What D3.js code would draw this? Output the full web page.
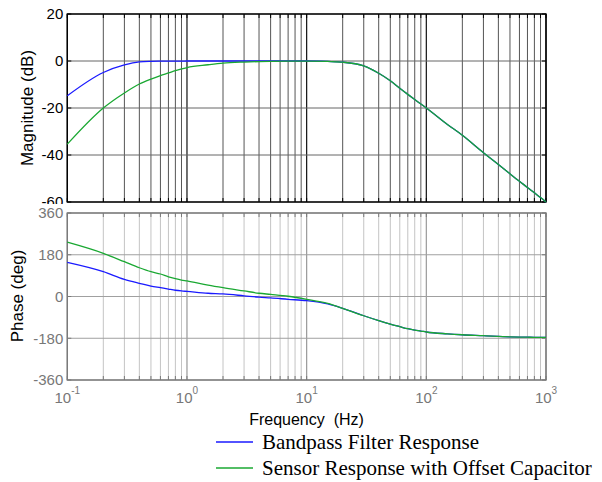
<!DOCTYPE html>
<html>
<head>
<meta charset="utf-8">
<script src="https://cdn.jsdelivr.net/npm/d3@7"></script>
<style>
  body { margin: 0; background: #fff; }
  svg { display: block; font-family: "Liberation Sans", Arial, sans-serif; }
</style>
</head>
<body>
<div id="chart-area"></div>
<script>
// Bode plot: bandpass filter vs sensor with offset capacitor

var freqs = [0.1, 0.2, 0.3, 0.4, 0.5, 0.6, 0.7, 0.8, 0.9, 1, 1.5, 2, 3, 4, 5, 7, 10, 15, 20, 30, 40,
    50, 60, 70, 80, 90, 100, 150, 200, 300, 400, 500, 600, 700, 800, 900, 1000];

var bandMag = [-14.8, -4.9, -1.7, -0.4, -0.15, -0.08, -0.05, -0.03, -0.02, -0.01, 0, 0, 0, 0, 0, 0, 0, -0.2, -0.5, -2.1, -5.2,
    -8.4, -11.6, -14.2, -16.4, -18.3, -20, -27, -31.6, -39, -44, -48, -51.2, -53.8, -56.1, -58.1, -60];
var sensorMag = [-35.4, -20, -13.6, -9.8, -7.7, -6.2, -5.1, -4.1, -3.4, -2.8, -1.6, -0.9, -0.45, -0.25, -0.15, -0.05, -0.02, -0.2, -0.5, -2.1, -5.2,
    -8.4, -11.6, -14.2, -16.4, -18.3, -20, -27, -31.6, -39, -44, -48, -51.2, -53.8, -56.1, -58.1, -60];

var bandPhase = [147, 107, 74, 57, 45, 38, 32, 27, 24, 22, 14, 11, 3, -3, -6, -12, -18, -32, -51, -83, -104,
    -119, -130, -139, -145, -149, -153, -161, -165, -169, -172, -174, -175, -175.5, -176, -176, -176];
var sensorPhase = [234, 186, 150, 124, 107, 97, 85, 77, 71, 67, 49, 38, 24, 14, 9, 1, -12, -30, -51, -83, -104,
    -119, -130, -139, -145, -149, -153, -161, -165, -169, -172, -174, -175, -175.5, -176, -176, -176];

var magTicks = [-60, -40, -20, 0, 20];
var phaseTicks = [-360, -180, 0, 180, 360];
var decades = [0.1, 1, 10, 100, 1000];
var decadeExp = ["-1", "0", "1", "2", "3"];

var seriesNames = ["Bandpass Filter Response", "Sensor Response with Offset Capacitor"];
var seriesColors = ["#1a1aff", "#1aa832"];

var width = 602, height = 482;

var svg = d3.select("#chart-area").append("svg")
    .attr("width", width)
    .attr("height", height);

svg.append("rect").attr("width", width).attr("height", height).attr("fill", "#fff");

// Scales
var x = d3.scaleLog().domain([0.1, 1000]).range([67.3, 546]);
var yMag = d3.scaleLinear().domain([-60, 20]).range([202, 14]);
var yPh = d3.scaleLinear().domain([-360, 360]).range([380, 213]);

var minorTicks = x.ticks();

function isDecade(f) {
    return decades.some(function(d) { return Math.abs(d - f) / d < 1e-6; });
}

function drawPanel(y, ticks, opt) {
    var g = svg.append("g");
    var y0 = y.range()[0], y1 = y.range()[1];
    var x0 = x.range()[0], x1 = x.range()[1];

    // white background (also clips the label from the panel above)
    if (opt.clip) {
        g.append("rect")
            .attr("x", 0).attr("y", y1 - 9)
            .attr("width", x0).attr("height", y0 - y1 + 9)
            .attr("fill", "#fff");
    }

    // vertical grid
    g.selectAll(".vgrid").data(minorTicks).enter().append("line")
        .attr("x1", function(d) { return x(d); })
        .attr("x2", function(d) { return x(d); })
        .attr("y1", y1).attr("y2", y0)
        .attr("stroke", function(d) { return isDecade(d) ? opt.majorColor : opt.minorColor; })
        .attr("stroke-width", function(d) { return isDecade(d) ? 1.2 : 1; });

    // horizontal grid
    g.selectAll(".hgrid").data(ticks).enter().append("line")
        .attr("x1", x0).attr("x2", x1)
        .attr("y1", function(d) { return y(d); })
        .attr("y2", function(d) { return y(d); })
        .attr("stroke", opt.hColor)
        .attr("stroke-width", 1);

    // small inner ticks on top/bottom and left/right
    g.selectAll(".xt").data(minorTicks).enter().append("path")
        .attr("d", function(d) {
            var px = x(d);
            return "M" + px + "," + y0 + "v-4M" + px + "," + y1 + "v4";
        })
        .attr("stroke", opt.boxColor).attr("stroke-width", 1);
    g.selectAll(".yt").data(ticks).enter().append("path")
        .attr("d", function(d) {
            var py = y(d);
            return "M" + x0 + "," + py + "h4M" + x1 + "," + py + "h-4";
        })
        .attr("stroke", opt.boxColor).attr("stroke-width", 1);

    // box
    g.append("rect")
        .attr("x", x0).attr("y", y1)
        .attr("width", x1 - x0).attr("height", y0 - y1)
        .attr("fill", "none")
        .attr("stroke", opt.boxColor)
        .attr("stroke-width", 1.4);

    // y tick labels
    g.selectAll(".ylab").data(ticks).enter().append("text")
        .attr("x", x0 - 4)
        .attr("y", function(d) { return y(d); })
        .attr("dy", "0.35em")
        .attr("text-anchor", "end")
        .attr("font-size", 15)
        .attr("fill", opt.labelColor)
        .text(function(d) { return d; });

    return g;
}

var magPanel = drawPanel(yMag, magTicks, {
    clip: false,
    majorColor: "#111", minorColor: "#555", hColor: "#666",
    boxColor: "#000", labelColor: "#000"
});

var phasePanel = drawPanel(yPh, phaseTicks, {
    clip: true,
    majorColor: "#999", minorColor: "#c4c4c4", hColor: "#a0a0a0",
    boxColor: "#7a7a7a", labelColor: "#777"
});

// Lines
var magLine = d3.line()
    .x(function(d) { return x(d[0]); })
    .y(function(d) { return yMag(d[1]); })
    .curve(d3.curveMonotoneX);
var phLine = d3.line()
    .x(function(d) { return x(d[0]); })
    .y(function(d) { return yPh(d[1]); })
    .curve(d3.curveMonotoneX);

[bandMag, sensorMag].forEach(function(vals, i) {
    magPanel.append("path")
        .attr("d", magLine(freqs.map(function(f, j) { return [f, vals[j]]; })))
        .attr("fill", "none")
        .attr("stroke", seriesColors[i])
        .attr("stroke-width", 1.3);
});
[bandPhase, sensorPhase].forEach(function(vals, i) {
    phasePanel.append("path")
        .attr("d", phLine(freqs.map(function(f, j) { return [f, vals[j]]; })))
        .attr("fill", "none")
        .attr("stroke", seriesColors[i])
        .attr("stroke-width", 1.3);
});

// x tick labels (10^n)
var xl = svg.selectAll(".xlab").data(decades).enter().append("text")
    .attr("x", function(d) { return x(d); })
    .attr("y", 403)
    .attr("text-anchor", "middle")
    .attr("fill", "#777")
    .attr("font-size", 15);
xl.append("tspan").text("10");
xl.append("tspan")
    .attr("dy", -9)
    .attr("font-size", 10)
    .text(function(d, i) { return decadeExp[i]; });

// Axis titles
svg.append("text")
    .attr("x", 306.5).attr("y", 425)
    .attr("text-anchor", "middle")
    .attr("font-size", 16)
    .attr("fill", "#000")
    .style("white-space", "pre")
    .text("Frequency  (Hz)");

svg.append("text")
    .attr("transform", "translate(33,108) rotate(-90)")
    .attr("text-anchor", "middle")
    .attr("font-size", 17)
    .text("Magnitude (dB)");

svg.append("text")
    .attr("transform", "translate(23,296) rotate(-90)")
    .attr("text-anchor", "middle")
    .attr("font-size", 17)
    .text("Phase (deg)");

// Legend
var legend = svg.selectAll(".legend").data(seriesNames).enter().append("g")
    .attr("transform", function(d, i) { return "translate(216," + (442 + i * 26) + ")"; });
legend.append("line")
    .attr("x1", 0).attr("x2", 37)
    .attr("stroke", function(d, i) { return seriesColors[i]; })
    .attr("stroke-width", 1.5);
legend.append("text")
    .attr("x", 46).attr("y", 7)
    .attr("font-family", "'Liberation Serif', 'Times New Roman', serif")
    .attr("font-size", 21)
    .text(function(d) { return d; });
</script>
</body>
</html>
